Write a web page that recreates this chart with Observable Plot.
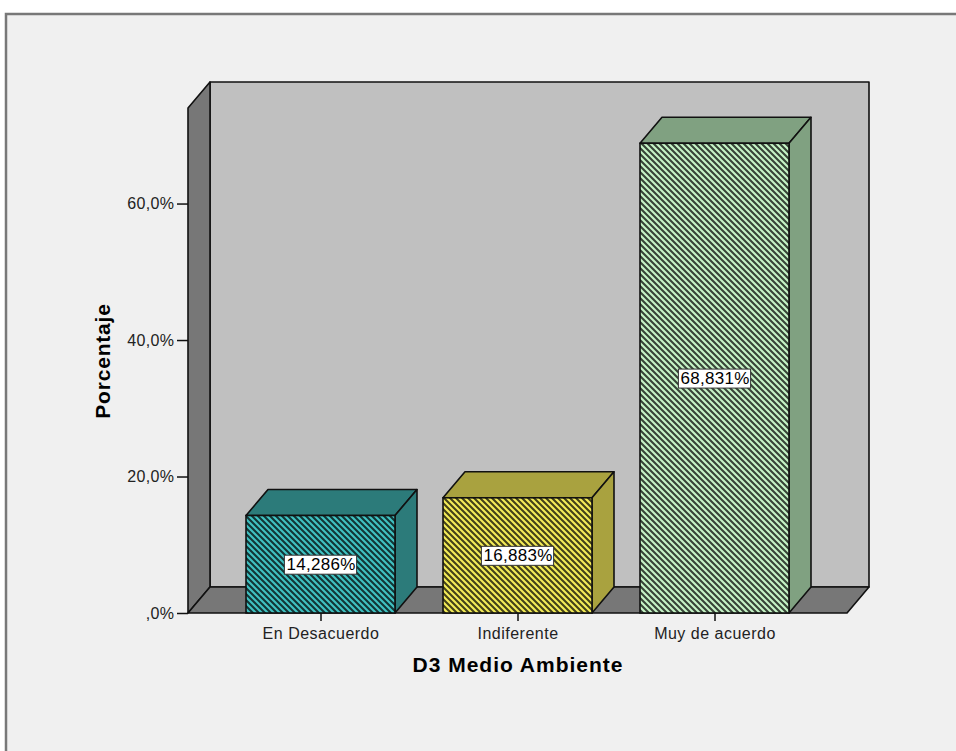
<!DOCTYPE html>
<html><head><meta charset="utf-8">
<script src="https://cdn.jsdelivr.net/npm/d3@7"></script>
<script src="https://cdn.jsdelivr.net/npm/@observablehq/plot@0.6"></script>
<style>body{margin:0;background:#fff} svg{display:block}</style>
</head><body>
<script>
const categories = ["En Desacuerdo", "Indiferente", "Muy de acuerdo"];
const values = [14.286, 16.883, 68.831];
const valueLabels = ["14,286%", "16,883%", "68,831%"];
const yTicks = [0, 20, 40, 60];
const yTickLabels = [",0%", "20,0%", "40,0%", "60,0%"];
const xTitle = "D3 Medio Ambiente";
const yTitle = "Porcentaje";
const frontColors = ["#40c2c2", "#f4ec58", "#c6f4c6"];
const sideColors = ["#2c7b7a", "#a9a23f", "#80a181"];

const data = categories.map((c, i) => ({category: c, value: values[i], label: valueLabels[i], i}));
const DX = 22, DY = -26;
const W = 956, H = 751;

function bw(x) { return typeof x.bandwidth === "function" ? x.bandwidth() : x.bandwidth; }

const defsMark = () => {
  const g = d3.create("svg:g");
  const defs = g.append("defs");
  frontColors.forEach((c, i) => {
    const p = defs.append("pattern").attr("id", "hatch" + i)
      .attr("patternUnits", "userSpaceOnUse").attr("width", 6).attr("height", 6);
    p.append("rect").attr("width", 6).attr("height", 6).attr("fill", c);
    p.append("path").attr("d", "M-1,-1L7,7M-1,5L1,7M5,-1L7,1")
      .attr("stroke", "#000").attr("stroke-opacity", 0.72).attr("stroke-width", 2.1);
  });
  g.append("rect").attr("x", 6).attr("y", 14).attr("width", W).attr("height", H)
    .attr("fill", "#f0f0f0").attr("stroke", "#787878").attr("stroke-width", 2.5);
  return g.node();
};

const wallsMark = (index, scales, values, dim) => {
  const ml = dim.marginLeft, mt = dim.marginTop, mr = dim.width - dim.marginRight, mb = dim.height - dim.marginBottom;
  const g = d3.create("svg:g").attr("stroke", "#111").attr("stroke-width", 1.6).attr("stroke-linejoin", "round");
  g.append("rect").attr("x", ml + DX).attr("y", mt + DY).attr("width", mr - ml).attr("height", mb - mt).attr("fill", "#c0c0c0");
  g.append("path").attr("fill", "#777777")
    .attr("d", `M${ml},${mt}L${ml + DX},${mt + DY}L${ml + DX},${mb + DY}L${ml},${mb}Z`);
  g.append("path").attr("fill", "#777777")
    .attr("d", `M${ml},${mb}L${ml + DX},${mb + DY}L${mr + DX},${mb + DY}L${mr},${mb}Z`);
  return g.node();
};

const barsDepthMark = (index, scales) => {
  const {x, y} = scales;
  const b = bw(x);
  const g = d3.create("svg:g").attr("stroke", "#111").attr("stroke-width", 1.6).attr("stroke-linejoin", "round");
  data.forEach((d, i) => {
    const x0 = x(d.category), x1 = x0 + b, yt = y(d.value), yb = y(0);
    g.append("path").attr("fill", sideColors[i])
      .attr("d", `M${x0},${yt}L${x0 + DX},${yt + DY}L${x1 + DX},${yt + DY}L${x1},${yt}Z`);
    g.append("path").attr("fill", sideColors[i])
      .attr("d", `M${x1},${yt}L${x1 + DX},${yt + DY}L${x1 + DX},${yb + DY}L${x1},${yb}Z`);
  });
  return g.node();
};

const chart = Plot.plot({
  width: W, height: H,
  marginLeft: 188, marginRight: 109, marginTop: 108, marginBottom: 138,
  style: {fontFamily: "'Liberation Sans', Arial, sans-serif", background: "transparent", overflow: "visible"},
  x: {domain: categories, paddingInner: 0.244, paddingOuter: 0.2945, axis: null},
  y: {domain: [0, 74], axis: null},
  marks: [
    defsMark,
    wallsMark,
    Plot.axisY(yTicks, {tickFormat: d => yTickLabels[yTicks.indexOf(d)], tickSize: 11, tickPadding: 3,
      fontSize: 16, label: null, stroke: "#111", strokeWidth: 1.5, fill: "#222"}),
    Plot.axisX(categories, {tickSize: 8, tickPadding: 6, fontSize: 16, label: null, stroke: "#111", strokeWidth: 1.5, fill: "#222"}),
    barsDepthMark,
    Plot.barY(data, {x: "category", y: "value", fill: d => `url(#hatch${d.i})`, stroke: "#111", strokeWidth: 1.6}),
    Plot.text(data, {x: "category", y: d => d.value / 2, text: "label", fontSize: 17, fill: "#000"}),
    Plot.text([xTitle], {text: d => d, frameAnchor: "bottom", dy: 58, fontSize: 21, fontWeight: "bold", fill: "#000", textAnchor: "middle"}),
    Plot.text([yTitle], {text: d => d, frameAnchor: "left", dx: -85, rotate: -90, fontSize: 21, fontWeight: "bold", fill: "#000", textAnchor: "middle"})
  ]
});
document.body.appendChild(chart);

chart.querySelectorAll("text").forEach(t => {
  const s = t.textContent;
  if (yTickLabels.includes(s)) t.style.letterSpacing = "0.4px";
  else if (categories.includes(s)) t.style.letterSpacing = "0.5px";
  else if (s === xTitle) t.style.letterSpacing = "1px";
  else if (s === yTitle) t.style.letterSpacing = "0.8px";
  else if (valueLabels.includes(s)) t.style.letterSpacing = "0.3px";
});

chart.querySelectorAll("text").forEach(t => {
  if (valueLabels.includes(t.textContent)) {
    const bb = t.getBBox();
    const r = document.createElementNS("http://www.w3.org/2000/svg", "rect");
    r.setAttribute("x", bb.x - 2); r.setAttribute("y", bb.y);
    r.setAttribute("width", bb.width + 3); r.setAttribute("height", bb.height);
    r.setAttribute("fill", "#fff"); r.setAttribute("stroke", "#333"); r.setAttribute("stroke-width", 1);
    const tr = t.getAttribute("transform");
    if (tr) r.setAttribute("transform", tr);
    t.parentNode.insertBefore(r, t);
  }
});
</script>
</body></html>
